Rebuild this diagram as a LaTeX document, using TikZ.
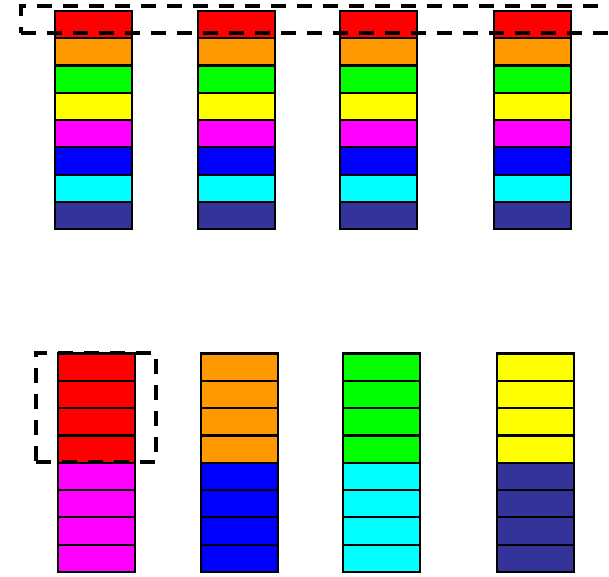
\documentclass[tikz,border=0pt]{standalone}
\definecolor{cred}{HTML}{FF0000}
\definecolor{corange}{HTML}{FF9900}
\definecolor{cgreen}{HTML}{00FF00}
\definecolor{cyellow}{HTML}{FFFF00}
\definecolor{cmagenta}{HTML}{FF00FF}
\definecolor{cblue}{HTML}{0000FF}
\definecolor{ccyan}{HTML}{00FFFF}
\definecolor{cdark}{HTML}{333399}
\begin{document}
\begin{tikzpicture}[x=1pt,y=-1pt,
  cell/.style={draw=black,line width=2.2pt,minimum width=77pt,minimum height=27.3pt,inner sep=0pt,outer sep=0pt,anchor=north},
  hilite/.style={draw=black,line width=3.8pt,dash pattern=on 15pt off 11pt,inner sep=0pt,outer sep=0pt}]
\useasboundingbox (0,0) rectangle (609,576);
% top row
\foreach \cx [count=\c] in {93.5,236.5,378.5,532.5}{
  \foreach \col [count=\r] in {cred,corange,cgreen,cyellow,cmagenta,cblue,ccyan,cdark}{
    \node[cell,fill=\col] (t\c-\r) at (\cx,{10.8+(\r-1)*27.3}) {};
  }
}
% bottom row
\foreach \cx/\ca/\cb [count=\c] in {96.5/cred/cmagenta,239.5/corange/cblue,381.5/cgreen/ccyan,535.5/cyellow/cdark}{
  \foreach \r in {1,...,8}{
    \ifnum\r<5 \def\col{\ca}\else\def\col{\cb}\fi
    \node[cell,fill=\col] (b\c-\r) at (\cx,{353.5+(\r-1)*27.3}) {};
  }
}
\node[hilite,minimum width=600pt,minimum height=27pt,anchor=north west] (toprow) at (21,6) {};
\node[hilite,minimum width=120pt,minimum height=109pt,anchor=north west] (botblock) at (36,353) {};
\end{tikzpicture}
\end{document}
